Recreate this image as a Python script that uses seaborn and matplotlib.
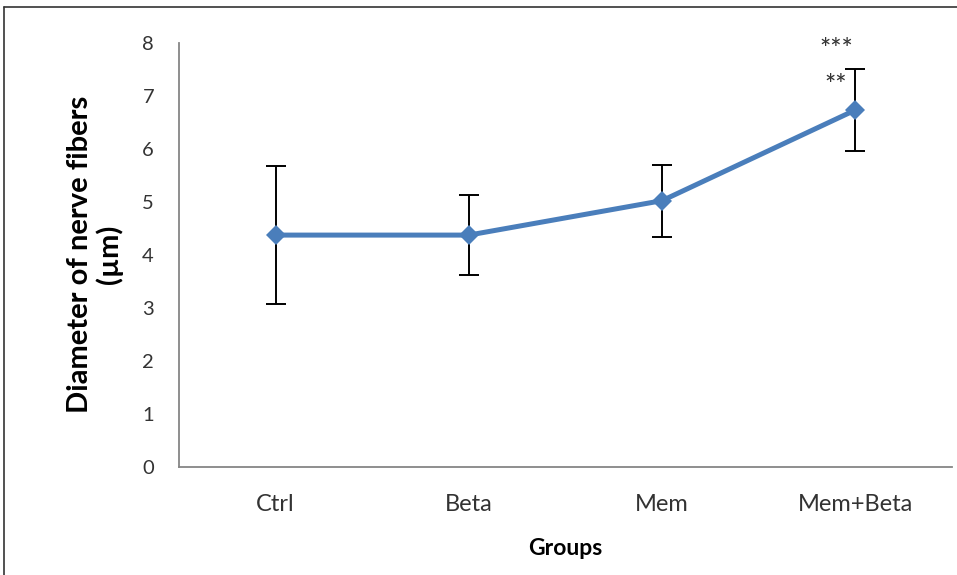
import matplotlib
matplotlib.use("Agg")
import matplotlib.pyplot as plt
import seaborn as sns
import pandas as pd
from matplotlib.lines import Line2D

# Mean nerve-fiber diameter per group with error (µm)
groups = ["Ctrl", "Beta", "Mem", "Mem+Beta"]
means = [4.37, 4.37, 5.02, 6.73]
errors = [1.30, 0.76, 0.68, 0.77]
sig_marks = ["**", "***"]

df = pd.DataFrame({"Groups": groups, "Diameter": means, "Err": errors})

sns.set_theme(style="white")
plt.rcParams["font.family"] = ["Lato", "DejaVu Sans"]

fig = plt.figure(figsize=(9.57, 5.75), dpi=100)
ax = fig.add_axes([179 / 957, 1 - 466.7 / 575, (952 - 179) / 957, (466.7 - 42.7) / 575])

line_color = "#4A7EBB"
text_color = "#333333"
axis_color = "#868686"

pos = list(range(len(groups)))
ax.errorbar(pos, df["Diameter"], yerr=df["Err"], fmt="none", ecolor="black",
            elinewidth=1.4, capsize=7, capthick=1.4, zorder=2)
sns.lineplot(data=df, x="Groups", y="Diameter", sort=False, ax=ax, color=line_color,
             linewidth=3.6, marker="D", markersize=10, markeredgewidth=0, zorder=3)

# significance marks above the last group
last = len(groups) - 1
ax.text(last - 0.1, 7.18, sig_marks[0], ha="center", va="center",
        fontsize=19, color=text_color, fontweight="medium")
ax.text(last - 0.1, 7.86, sig_marks[1], ha="center", va="center",
        fontsize=19, color=text_color, fontweight="medium")

ax.set_xlim(-0.5, len(groups) - 0.5)
ax.set_ylim(0, 8)
ax.set_yticks(range(0, 9))
ax.set_yticklabels([str(v) for v in range(0, 9)], fontsize=14.5, color=text_color)

# category boundaries carry the tick marks, labels sit between them
ax.set_xticks([i - 0.5 for i in range(len(groups) + 1)])
ax.set_xticklabels([""] * (len(groups) + 1))
ax.set_xticks(pos, minor=True)
ax.set_xticklabels(groups, minor=True, fontsize=17, color=text_color)
ax.tick_params(axis="x", which="minor", length=0, pad=20)
ax.tick_params(axis="x", which="major", length=6, width=1.2, color=axis_color, direction="out")
ax.tick_params(axis="y", length=6, width=1.2, color=axis_color, direction="out", pad=12)

for side in ["top", "right"]:
    ax.spines[side].set_visible(False)
for side in ["left", "bottom"]:
    ax.spines[side].set_color(axis_color)
    ax.spines[side].set_linewidth(1.3)

ax.set_xlabel("Groups", fontsize=16.5, fontweight="bold", color="black", labelpad=16)
ax.set_ylabel("Diameter of nerve fibers\n(µm)", fontsize=21, fontweight="bold",
              color="black", labelpad=14, linespacing=1.1)

# outer frame lines (left and top)
fig.add_artist(Line2D([4 / 957, 4 / 957], [0, 1 - 7 / 575], transform=fig.transFigure,
                      color="#333333", linewidth=1.2))
fig.add_artist(Line2D([4 / 957, 1], [1 - 7 / 575, 1 - 7 / 575], transform=fig.transFigure,
                      color="#333333", linewidth=1.2))

fig.savefig("out.png", dpi=100, facecolor="white")
